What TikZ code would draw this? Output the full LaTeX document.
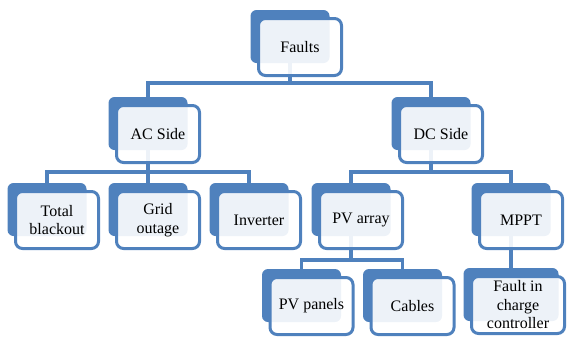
\documentclass[tikz,border=0pt]{standalone}
\usepackage{fontspec}
\setmainfont{Liberation Serif}
\usetikzlibrary{calc}
\definecolor{accent}{HTML}{4F81BD}
\pgfdeclarelayer{bg}
\pgfsetlayers{bg,main}

% #1 name, #2 centre x, #3 top y, #4 back width, #5 front width, #6 label
\newcommand\tierbox[6]{%
  \node[backbox, minimum width=#4pt, anchor=north] (#1B) at (#2,#3) {};
  \node[frontbox, minimum width=#5pt, anchor=north west] (#1)
    at ([shift={(6.5,7)}]#1B.north west) {#6};}

\begin{document}
\begin{tikzpicture}[x=1pt,y=-1pt,
  backbox/.style={fill=accent, draw=none, rounded corners=6pt,
    minimum height=53pt, inner sep=0pt, outer sep=0pt},
  frontbox/.style={draw=accent, line width=3pt, fill=white,
    fill opacity=0.9, text opacity=1, rounded corners=7pt,
    minimum height=57pt, inner sep=0pt, align=center,
    font=\rmfamily\fontsize{16}{18.5}\selectfont},
  conn/.style={draw=accent, line width=3.4pt}]
\useasboundingbox (0,0) rectangle (567,338);

% root
\tierbox{faults}{290}{10}{79}{83}{Faults}
% first level
\tierbox{ac}{148}{97}{79}{83}{AC Side}
\tierbox{dc}{431}{97}{79}{83}{DC Side}
% second level
\tierbox{total}{47}{183}{79}{83}{Total\\blackout}
\tierbox{grid}{148}{183}{79}{83}{Grid\\outage}
\tierbox{inv}{249}{183}{79}{83}{Inverter}
\tierbox{pva}{351}{183}{79}{83}{PV array}
\tierbox{mppt}{511}{183}{79}{83}{MPPT}
% third level
\tierbox{pvp}{301.5}{269}{79}{83}{PV panels}
\tierbox{cab}{402.5}{269}{79}{83}{Cables}
\tierbox{fcc}{511}{268}{95}{93}{Fault in\\charge\\controller}

% bus heights
\coordinate (bus0) at (0,83);
\coordinate (bus1) at (0,172);
\coordinate (bus2) at (0,260);

\begin{pgfonlayer}{bg}
\draw[conn] (faultsB.south) -- (faultsB.south |- bus0) -| (acB.north);
\draw[conn] (faultsB.south) -- (faultsB.south |- bus0) -| (dcB.north);
\draw[conn] (acB.south) -- (acB.south |- bus1) -| (totalB.north);
\draw[conn] (acB.south) -- (acB.south |- bus1) -| (gridB.north);
\draw[conn] (acB.south) -- (acB.south |- bus1) -| (invB.north);
\draw[conn] (dcB.south) -- (dcB.south |- bus1) -| (pvaB.north);
\draw[conn] (dcB.south) -- (dcB.south |- bus1) -| (mpptB.north);
\draw[conn] (pvaB.south) -- (pvaB.south |- bus2) -| (pvpB.north);
\draw[conn] (pvaB.south) -- (pvaB.south |- bus2) -| (cabB.north);
\draw[conn] (mpptB.south) -- (fccB.north);
\end{pgfonlayer}
\end{tikzpicture}
\end{document}
